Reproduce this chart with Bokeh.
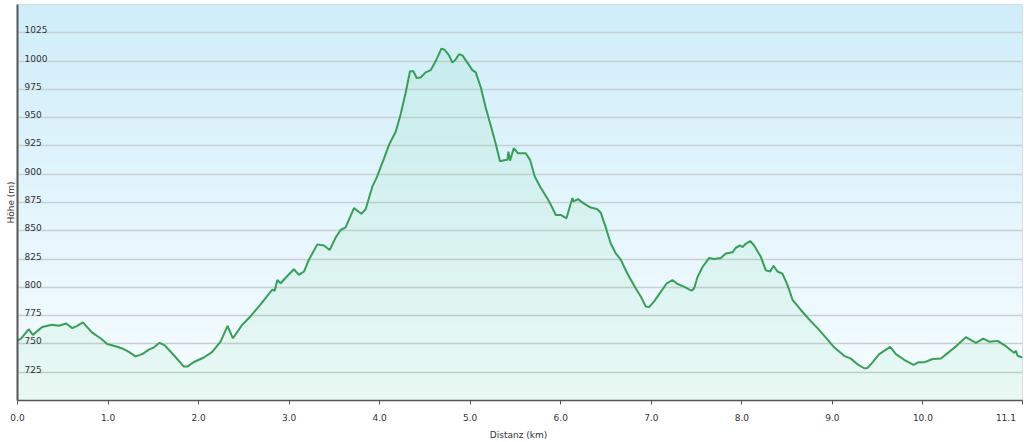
import numpy as np
from bokeh.plotting import figure
from bokeh.models import Range1d, FixedTicker
from bokeh.core.properties import value
from bokeh.embed import file_html
from bokeh.resources import INLINE

# distance (km) and elevation (m)
dist_km = [0.0, 0.041, 0.125, 0.169, 0.273, 0.383, 0.456, 0.538, 0.604, 0.660, 0.722, 0.825,
           0.917, 0.991, 1.083, 1.157, 1.230, 1.304, 1.378, 1.451, 1.506, 1.569, 1.624, 1.727,
           1.838, 1.875, 1.948, 2.059, 2.151, 2.243, 2.320, 2.379, 2.483, 2.575, 2.685, 2.814,
           2.840, 2.870, 2.906, 2.980, 3.053, 3.108, 3.164, 3.219, 3.312, 3.384, 3.448, 3.514,
           3.569, 3.624, 3.716, 3.798, 3.845, 3.919, 3.967, 4.048, 4.103, 4.177, 4.232, 4.287,
           4.335, 4.372, 4.409, 4.453, 4.508, 4.564, 4.619, 4.682, 4.718, 4.766, 4.803, 4.840,
           4.876, 4.914, 4.969, 5.024, 5.061, 5.116, 5.171, 5.227, 5.282, 5.329, 5.374, 5.411,
           5.422, 5.440, 5.481, 5.528, 5.613, 5.661, 5.713, 5.779, 5.853, 5.897, 5.945, 6.000,
           6.063, 6.092, 6.129, 6.140, 6.191, 6.257, 6.331, 6.405, 6.442, 6.497, 6.553, 6.608,
           6.663, 6.737, 6.829, 6.884, 6.939, 6.976, 7.031, 7.105, 7.171, 7.234, 7.290, 7.362,
           7.444, 7.473, 7.510, 7.566, 7.639, 7.694, 7.768, 7.823, 7.897, 7.934, 7.981, 8.008,
           8.044, 8.092, 8.136, 8.210, 8.265, 8.313, 8.350, 8.394, 8.450, 8.505, 8.560, 8.652,
           8.744, 8.836, 8.928, 9.020, 9.130, 9.204, 9.278, 9.351, 9.389, 9.444, 9.517, 9.639,
           9.702, 9.794, 9.897, 9.948, 10.014, 10.107, 10.199, 10.291, 10.372, 10.475, 10.586,
           10.666, 10.733, 10.825, 10.917, 11.009, 11.028, 11.046, 11.1]
elev_m = [753, 755, 763, 758, 765, 767, 766, 768, 764, 766, 769, 760,
          755, 750, 748, 746, 743, 739, 741, 745, 747, 751, 749, 740,
          730, 730, 734, 738, 743, 752, 766, 755, 767, 774.5, 785, 798,
          797, 806.5, 803.6, 810, 816, 811, 814, 824.5, 838, 837, 833, 844,
          850.7, 853, 870, 865, 869, 889, 897, 914, 926, 937.5, 953, 972,
          991, 991, 985, 985.5, 990, 992, 1000, 1011, 1010, 1005, 998.6, 1001.5,
          1006, 1005, 998.6, 992, 990, 977, 959, 943, 927, 911.5, 912.4, 912.7,
          920, 912, 923, 918.5, 918.5, 912.7, 898, 888, 878.6, 872, 864, 864,
          861, 869, 879, 876, 878, 874, 870.5, 869, 866, 853, 838.5, 830,
          824.5, 812, 799, 792, 783, 782.6, 787.6, 796, 803.6, 806.5, 803, 800.7,
          797, 799, 809, 818, 826, 825, 826, 830, 831, 835, 837, 835.6,
          838.5, 841, 837, 827, 815, 814, 819, 814, 812, 802, 789, 780,
          771.6, 764, 755.6, 747, 739.5, 737, 732, 728.5, 728.8, 733.7, 741, 747.4,
          741, 736, 731.5, 733.7, 733.7, 736.7, 737.2, 743, 748.3, 756, 751,
          754.7, 752, 752.7, 748, 742, 744, 739.6, 738]

y_ticks = [725, 750, 775, 800, 825, 850, 875, 900, 925, 950, 975, 1000, 1025]
x_ticks = [0, 1, 2, 3, 4, 5, 6, 7, 8, 9, 10, 11.1]
x_tick_labels = ["0.0", "1.0", "2.0", "3.0", "4.0", "5.0", "6.0", "7.0", "8.0", "9.0", "10.0", "11.1"]

X0, X1 = 0.0, 11.1
Y0, Y1 = 700, 1050
FONT = "DejaVu Sans"

p = figure(width=1024, height=442, output_backend="svg", toolbar_location=None,
           x_range=Range1d(X0, X1), y_range=Range1d(Y0, Y1),
           min_border_left=17, min_border_right=2, min_border_top=4, min_border_bottom=36)
p.background_fill_color = "#ffffff"
p.border_fill_color = "#ffffff"
p.outline_line_color = "#d5dde0"

# background gradient (light sky blue at top to near white at bottom)
n = 256
t = np.linspace(0, 1, n)[:, None]  # 0 bottom -> 1 top
bottom = np.array([248, 253, 255])
top = np.array([207, 238, 250])
rgb = (bottom + (top - bottom) * t).astype(np.uint32)
img = np.empty((n, 1), dtype=np.uint32)
view = img.view(dtype=np.uint8).reshape((n, 1, 4))
view[:, :, 0] = rgb[:, 0:1]
view[:, :, 1] = rgb[:, 1:2]
view[:, :, 2] = rgb[:, 2:3]
view[:, :, 3] = 255
bg = p.image_rgba(image=[img], x=X0, y=Y0, dw=X1 - X0, dh=Y1 - Y0)
bg.level = "image"

# grid
p.xgrid.visible = False
p.ygrid.ticker = FixedTicker(ticks=y_ticks)
p.ygrid.grid_line_color = "#c9d0d4"
p.ygrid.grid_line_width = 1.5

# area + line
p.varea(x=dist_km, y1=Y0, y2=elev_m, fill_color="#28c85a", fill_alpha=0.07)
p.line(dist_km, elev_m, line_color="#34a156", line_width=2)

# y tick labels inside the plot, above each grid line
p.text(x=[X0] * len(y_ticks), y=y_ticks, text=[str(v) for v in y_ticks],
       x_offset=7, y_offset=-3, text_align="left", text_baseline="alphabetic",
       text_font=value(FONT), text_font_size="9px", text_color="#333333")

# y axis
p.yaxis.ticker = FixedTicker(ticks=[])
p.yaxis.axis_label = "Höhe (m)"
p.yaxis.axis_label_text_font = FONT
p.yaxis.axis_label_text_font_size = "9px"
p.yaxis.axis_label_text_font_style = "normal"
p.yaxis.axis_label_text_color = "#333333"
p.yaxis.axis_label_standoff = 2
p.yaxis.axis_line_color = "#555555"
p.yaxis.axis_line_width = 2
p.yaxis.major_tick_out = 0
p.yaxis.minor_tick_out = 0

# x axis; the last label is padded so that it ends at the right edge
pad = "\u00a0" * 3
p.xaxis.ticker = FixedTicker(ticks=x_ticks)
overrides = {x_ticks[i]: x_tick_labels[i] for i in range(len(x_ticks) - 1)}
overrides[x_ticks[-1]] = x_tick_labels[-1] + pad
p.xaxis.major_label_overrides = overrides
p.xaxis.axis_label = "Distanz  (km)"
p.xaxis.axis_label_text_font = FONT
p.xaxis.axis_label_text_font_size = "9px"
p.xaxis.axis_label_text_font_style = "normal"
p.xaxis.axis_label_text_color = "#333333"
p.xaxis.axis_label_standoff = 4
p.xaxis.major_label_text_font = FONT
p.xaxis.major_label_text_font_size = "9px"
p.xaxis.major_label_text_color = "#333333"
p.xaxis.major_label_standoff = 8
p.xaxis.axis_line_color = "#555555"
p.xaxis.axis_line_width = 1.5
p.xaxis.major_tick_line_color = "#555555"
p.xaxis.major_tick_out = 4
p.xaxis.major_tick_in = 0
p.xaxis.minor_tick_out = 0
p.xaxis.minor_tick_in = 0

open("out.html", "w").write(file_html(p, INLINE))
